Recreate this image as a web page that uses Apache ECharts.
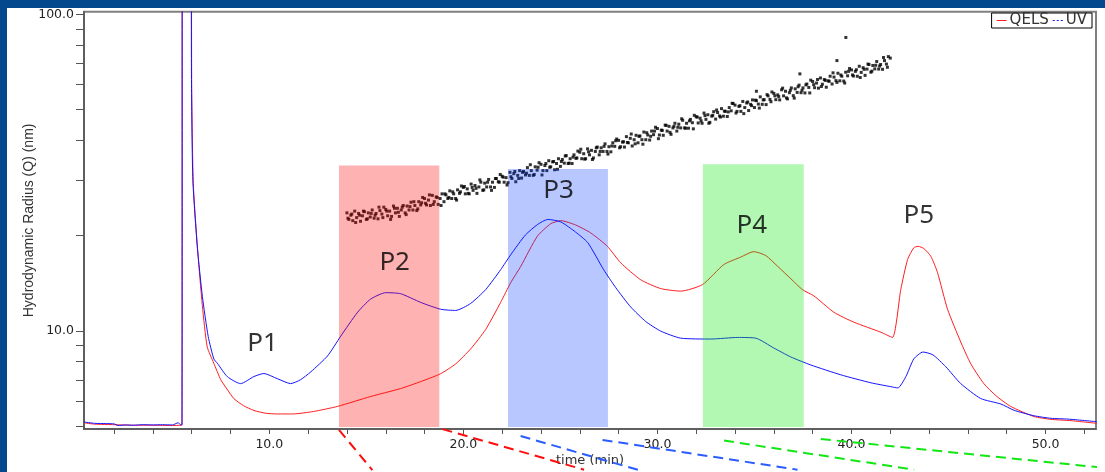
<!DOCTYPE html>
<html>
<head>
<meta charset="utf-8">
<script src="https://cdn.jsdelivr.net/npm/echarts@6/dist/echarts.min.js"></script>
<style>
html, body { margin: 0; padding: 0; width: 1105px; height: 472px; background: #03478c; overflow: hidden; }
#main { position: absolute; left: 7px; top: 8px; width: 1098px; height: 464px; background: #fff; }
</style>
</head>
<body>
<div id="main"></div>
<script>
// time (min) / value pairs
var qelsPoints = [
    [0.45, 5.12], [1.0, 5.07], [2.0, 5.05], [3.0, 5.03], [4.0, 5.03], [5.0, 5.02], [5.45, 5.03], [5.5, 5.04],
    [5.52, 400], [5.96, 400], [6.0, 60], [6.08, 29.5], [6.3, 18.2], [6.55, 12.0], [6.8, 8.9], [7.14, 7.9],
    [7.5, 7.0], [7.85, 6.5], [8.18, 6.1], [8.67, 5.8], [9.21, 5.6], [9.8, 5.49], [10.4, 5.46], [11.2, 5.46],
    [12.28, 5.56], [13.52, 5.77], [15.22, 6.2], [16.77, 6.57], [17.8, 6.91], [18.83, 7.32], [19.6, 7.86],
    [20.37, 8.76], [21.15, 10.1], [21.92, 12.3], [22.44, 14.2], [22.96, 16.0], [23.81, 19.9], [24.5, 21.8],
    [25.02, 22.3], [25.79, 21.6], [26.56, 20.4], [27.42, 18.5], [28.11, 16.4], [29.14, 14.5], [30.17, 13.6],
    [31.2, 13.35], [32.32, 14.0], [33.42, 16.2], [34.29, 17.1], [34.96, 17.8], [35.58, 17.3], [36.19, 16.0],
    [36.88, 14.6], [37.47, 13.5], [38.06, 12.9], [39.09, 11.45], [40.12, 10.65], [41.51, 9.9], [42.11, 9.53],
    [42.54, 13.5], [42.89, 16.8], [43.21, 18.3], [43.43, 18.5], [43.73, 18.2], [44.09, 17.2], [44.43, 15.3],
    [44.95, 11.7], [45.63, 9.22], [46.15, 7.86], [46.82, 6.81], [47.44, 6.24], [48.2, 5.77], [49.4, 5.36],
    [50.28, 5.25], [51.31, 5.2], [52.65, 5.1]
];
var uvPoints = [
    [0.45, 5.15], [1.0, 5.1], [1.6, 5.09], [2.0, 5.08], [2.2, 5.02], [2.6, 5.04], [3.0, 5.03], [3.5, 5.05],
    [4.0, 5.04], [4.5, 5.05], [5.0, 5.04], [5.3, 5.12], [5.45, 5.04], [5.5, 5.05],
    [5.52, 400], [5.94, 400], [5.99, 60], [6.06, 29.9], [6.29, 18.4], [6.55, 12.85], [6.85, 9.6], [7.14, 8.15],
    [7.32, 7.9], [7.84, 7.16], [8.52, 6.81], [9.21, 7.17], [9.72, 7.33], [10.41, 7.06], [11.1, 6.81],
    [11.6, 7.0], [12.14, 7.42], [13.0, 8.33], [13.68, 9.62], [14.55, 11.45], [15.22, 12.6], [16.0, 13.2],
    [16.77, 13.1], [17.8, 12.3], [18.83, 11.7], [19.6, 11.6], [20.37, 12.2], [21.15, 13.5], [21.92, 15.6],
    [22.44, 17.4], [23.2, 20.1], [23.83, 21.7], [24.35, 22.5], [25.02, 22.1], [25.79, 20.5], [26.41, 19.0],
    [27.23, 15.6], [27.85, 13.7], [28.62, 11.9], [29.4, 10.7], [30.17, 9.98], [31.2, 9.48], [32.75, 9.42],
    [34.14, 9.53], [35.07, 9.48], [35.99, 8.83], [36.87, 8.27], [37.9, 7.8], [39.45, 7.26], [41.0, 6.85],
    [42.03, 6.66], [42.39, 6.6], [42.8, 7.16], [43.21, 8.15], [43.68, 8.57], [44.19, 8.4], [44.86, 7.7],
    [45.63, 6.81], [46.66, 6.11], [47.7, 5.87], [48.37, 5.61], [49.4, 5.39], [50.28, 5.29], [51.16, 5.26],
    [52.65, 5.16]
];
// hydrodynamic radius dots (nm)
var radiusDots = [
    [14.0, 23.6], [14.1, 22.5], [14.2, 23.2], [14.3, 22.3], [14.4, 23.9], [14.5, 22.8], [14.6, 23.5], [14.7, 22.2], [14.8, 23.1], [14.9, 23.8],
    [15.0, 22.5], [15.1, 23.6], [15.2, 22.9], [15.3, 24.1], [15.4, 22.7], [15.5, 23.5], [15.6, 22.6], [15.7, 24.0], [15.8, 23.4], [15.9, 24.6],
    [16.0, 24.2], [16.1, 23.1], [16.2, 23.9], [16.3, 23.0], [16.4, 24.8], [16.5, 23.6], [16.6, 24.4], [16.7, 23.0], [16.8, 24.1], [16.9, 24.9],
    [17.0, 23.6], [17.1, 24.8], [17.2, 24.1], [17.3, 25.5], [17.4, 24.1], [17.5, 24.9], [17.6, 24.0], [17.7, 25.6], [17.8, 25.0], [17.9, 26.4],
    [18.0, 26.2], [18.1, 25.0], [18.2, 25.9], [18.3, 24.9], [18.4, 26.8], [18.5, 25.6], [18.6, 26.5], [18.7, 25.1], [18.8, 26.2], [18.9, 27.1],
    [19.0, 25.6], [19.1, 26.9], [19.2, 26.2], [19.3, 27.7], [19.4, 26.2], [19.5, 27.1], [19.6, 26.2], [19.7, 27.9], [19.8, 27.2], [19.9, 28.7],
    [20.0, 28.4], [20.1, 27.1], [20.2, 28.1], [20.3, 27.1], [20.4, 29.1], [20.5, 27.8], [20.6, 28.8], [20.7, 27.2], [20.8, 28.5], [20.9, 29.5],
    [21.0, 27.8], [21.1, 29.3], [21.2, 28.5], [21.3, 30.1], [21.4, 28.5], [21.5, 29.5], [21.6, 28.4], [21.7, 30.3], [21.8, 29.6], [21.9, 31.2],
    [22.0, 30.8], [22.1, 29.5], [22.2, 30.5], [22.3, 29.4], [22.4, 31.7], [22.5, 30.3], [22.6, 31.4], [22.7, 29.6], [22.8, 31.0], [22.9, 32.1],
    [23.0, 30.4], [23.1, 31.9], [23.2, 31.1], [23.3, 32.8], [23.4, 31.0], [23.5, 32.1], [23.6, 31.0], [23.7, 33.0], [23.8, 32.2], [23.9, 34.0],
    [24.0, 33.6], [24.1, 32.1], [24.2, 33.3], [24.3, 32.1], [24.4, 34.5], [24.5, 33.0], [24.6, 34.2], [24.7, 32.3], [24.8, 33.8], [24.9, 35.0],
    [25.0, 33.1], [25.1, 34.8], [25.2, 33.9], [25.3, 35.8], [25.4, 33.8], [25.5, 35.0], [25.6, 33.8], [25.7, 36.0], [25.8, 35.1], [25.9, 37.0],
    [26.0, 36.7], [26.1, 35.0], [26.2, 36.3], [26.3, 35.0], [26.4, 37.6], [26.5, 36.0], [26.6, 37.2], [26.7, 35.2], [26.8, 36.9], [26.9, 38.1],
    [27.0, 36.0], [27.1, 37.9], [27.2, 36.9], [27.3, 39.0], [27.4, 36.9], [27.5, 38.2], [27.6, 36.8], [27.7, 39.3], [27.8, 38.3], [27.9, 40.4],
    [28.0, 40.0], [28.1, 38.2], [28.2, 39.5], [28.3, 38.1], [28.4, 41.1], [28.5, 39.3], [28.6, 40.6], [28.7, 38.4], [28.8, 40.2], [28.9, 41.5],
    [29.0, 39.3], [29.1, 41.3], [29.2, 40.2], [29.3, 42.5], [29.4, 40.2], [29.5, 41.6], [29.6, 40.1], [29.7, 42.8], [29.8, 41.7], [29.9, 44.0],
    [30.0, 43.6], [30.1, 41.6], [30.2, 43.1], [30.3, 41.5], [30.4, 44.7], [30.5, 42.8], [30.6, 44.3], [30.7, 41.8], [30.8, 43.8], [30.9, 45.3],
    [31.0, 42.8], [31.1, 45.0], [31.2, 43.8], [31.3, 46.3], [31.4, 43.8], [31.5, 45.3], [31.6, 43.7], [31.7, 46.6], [31.8, 45.5], [31.9, 48.0],
    [32.0, 47.5], [32.1, 45.4], [32.2, 47.0], [32.3, 45.3], [32.4, 48.8], [32.5, 46.6], [32.6, 48.2], [32.7, 45.6], [32.8, 47.7], [32.9, 49.3],
    [33.0, 46.7], [33.1, 49.0], [33.2, 47.8], [33.3, 50.4], [33.4, 47.7], [33.5, 49.4], [33.6, 47.6], [33.7, 50.8], [33.8, 49.6], [33.9, 52.3],
    [34.0, 51.7], [34.1, 49.4], [34.2, 51.2], [34.3, 49.4], [34.4, 53.1], [34.5, 50.8], [34.6, 52.5], [34.7, 49.7], [34.8, 52.0], [34.9, 53.7],
    [35.0, 50.8], [35.1, 53.4], [35.2, 52.1], [35.3, 54.9], [35.4, 52.0], [35.5, 53.8], [35.6, 51.9], [35.7, 55.3], [35.8, 53.9], [35.9, 56.9],
    [36.0, 56.3], [36.1, 53.8], [36.2, 55.7], [36.3, 53.7], [36.4, 57.8], [36.5, 55.3], [36.6, 57.2], [36.7, 54.1], [36.8, 56.6], [36.9, 58.6],
    [37.0, 55.4], [37.1, 58.2], [37.2, 56.7], [37.3, 59.8], [37.4, 56.6], [37.5, 58.6], [37.6, 56.5], [37.7, 60.3], [37.8, 58.8], [37.9, 62.0],
    [38.0, 61.4], [38.1, 58.7], [38.2, 60.7], [38.3, 58.5], [38.4, 63.0], [38.5, 60.2], [38.6, 62.3], [38.7, 58.9], [38.8, 61.7], [38.9, 63.8],
    [39.0, 60.3], [39.1, 63.4], [39.2, 61.8], [39.3, 65.2], [39.4, 61.7], [39.5, 63.8], [39.6, 61.6], [39.7, 65.7], [39.8, 64.0], [39.9, 67.5],
    [40.0, 66.8], [40.1, 63.9], [40.2, 66.1], [40.3, 63.8], [40.4, 68.6], [40.5, 65.6], [40.6, 67.9], [40.7, 64.2], [40.8, 67.2], [40.9, 69.5],
    [41.0, 65.7], [41.1, 69.0], [41.2, 67.3], [41.3, 71.0], [41.4, 67.2], [41.5, 69.5], [41.6, 67.1], [41.7, 71.5], [41.8, 69.7], [41.9, 73.6],
    [42.0, 72.8],
    [35.1, 57.2], [37.34, 64.9], [39.25, 71.5], [39.71, 84.6]
];
// second, in-between layer of the same dot cloud
var radiusDotsFill = [
    [14.05, 22.7], [14.25, 23.4], [14.45, 22.0], [14.65, 23.2], [14.85, 23.9], [15.05, 22.6], [15.25, 23.5], [15.45, 23.2], [15.65, 24.6], [15.85, 22.8],
    [16.05, 23.9], [16.25, 22.5], [16.45, 24.4], [16.65, 23.7], [16.85, 24.6], [17.05, 23.3], [17.25, 24.7], [17.45, 25.6], [17.65, 24.3], [17.85, 25.4],
    [18.05, 25.3], [18.25, 26.9], [18.45, 25.1], [18.65, 26.4], [18.85, 24.9], [19.05, 27.1], [19.25, 26.4], [19.45, 27.5], [19.65, 25.9], [19.85, 27.5],
    [20.05, 28.6], [20.25, 27.2], [20.45, 28.4], [20.65, 28.2], [20.85, 30.0], [21.05, 27.9], [21.25, 29.5], [21.45, 27.8], [21.65, 30.3], [21.85, 29.5],
    [22.05, 30.6], [22.25, 28.9], [22.45, 30.7], [22.65, 31.9], [22.85, 30.3], [23.05, 31.7], [23.25, 31.5], [23.45, 33.5], [23.65, 31.2], [23.85, 32.9],
    [24.05, 31.1], [24.25, 33.8], [24.45, 32.9], [24.65, 34.3], [24.85, 32.4], [25.05, 34.3], [25.25, 35.7], [25.45, 33.9], [25.65, 35.4], [25.85, 35.2],
    [26.05, 37.5], [26.25, 34.9], [26.45, 36.8], [26.65, 34.8], [26.85, 37.9], [27.05, 36.9], [27.25, 38.3], [27.45, 36.2], [27.65, 38.4], [27.85, 39.9],
    [28.05, 37.9], [28.25, 39.6], [28.45, 39.4], [28.65, 41.9], [28.85, 39.0], [29.05, 41.2], [29.25, 38.9], [29.45, 42.3], [29.65, 41.2], [29.85, 42.8],
    [30.05, 40.5], [30.25, 43.0], [30.45, 44.6], [30.65, 42.4], [30.85, 44.3], [31.05, 44.0], [31.25, 46.8], [31.45, 43.7], [31.65, 46.1], [31.85, 43.5],
    [32.05, 47.4], [32.25, 46.1], [32.45, 47.9], [32.65, 45.3], [32.85, 48.0], [33.05, 49.9], [33.25, 47.4], [33.45, 49.5], [33.65, 49.2], [33.85, 52.4],
    [34.05, 48.8], [34.25, 51.5], [34.45, 48.6], [34.65, 52.9], [34.85, 51.5], [35.05, 53.6], [35.25, 50.6], [35.45, 53.7], [35.65, 55.8], [35.85, 53.0],
    [36.05, 55.3], [36.25, 55.0], [36.45, 58.5], [36.65, 54.5], [36.85, 57.6], [37.05, 54.4], [37.25, 59.1], [37.45, 57.6], [37.65, 59.9], [37.85, 56.5],
    [38.05, 60.0], [38.25, 62.3], [38.45, 59.2], [38.65, 61.9], [38.85, 61.5], [39.05, 65.4], [39.25, 61.0], [39.45, 64.4], [39.65, 60.7], [39.85, 66.1],
    [40.05, 64.4], [40.25, 66.9], [40.45, 63.2], [40.65, 67.1], [40.85, 69.7], [41.05, 66.2], [41.25, 69.1], [41.45, 68.7], [41.65, 73.1], [41.85, 68.1]
];

var peakNames = ['P1', 'P2', 'P3', 'P4', 'P5'];
var peakLabelAt = [[9.65, 9.08], [16.46, 16.42], [24.91, 27.8], [34.86, 21.45], [43.47, 23.2]];

// highlighted fractions: [start, end, top], all start from bandFloor
var bandRanges = [[13.59, 18.76, 33.3], [22.30, 27.45, 32.5], [32.34, 37.54, 33.6]];
var bandFloor = 4.97;

// zoom guide lines leaving the plot downward
var guideRed = [[[13.59, 4.86], [15.31, 3.63]], [[18.92, 4.89], [26.22, 3.64]]];
var guideBlue = [[[22.95, 4.65], [29.03, 3.63]], [[27.17, 4.52], [37.22, 3.64]]];
var guideGreen = [[[33.43, 4.50], [43.23, 3.64]], [[38.42, 4.55], [53.02, 3.69]]];

var timeTicks = [2, 4, 6, 8, 10, 12, 14, 16, 18, 20, 22, 24, 26, 28, 30, 32, 34, 36, 38, 40, 42, 44, 46, 48, 50, 52];
var timeLabels = [10, 20, 30, 40, 50];
var radiusTicks = [5, 6, 7, 8, 9, 10, 20, 30, 40, 50, 60, 70, 80, 90, 100];
var radiusLabels = [10, 100];

var bandColors = ['rgba(255,0,0,0.30)', 'rgba(0,54,255,0.28)', 'rgba(0,230,0,0.30)'];

var chart = echarts.init(document.getElementById('main'));

var series = [
    {
        name: 'QELS', type: 'line', data: qelsPoints, symbol: 'none', smooth: 0.2,
        lineStyle: { color: '#ff1e1e', width: 1 }, itemStyle: { color: '#ff1e1e' }, z: 2
    },
    {
        name: 'UV', type: 'line', data: uvPoints, symbol: 'none', smooth: 0.2,
        lineStyle: { color: '#1414ff', width: 1 }, itemStyle: { color: '#1414ff' }, z: 2
    },
    {
        name: 'radius', type: 'scatter', data: radiusDots.concat(radiusDotsFill), symbol: 'rect', symbolSize: 3,
        itemStyle: { color: '#000' }, silent: true, z: 3
    },
    {
        name: 'peaks', type: 'scatter', symbolSize: 1, silent: true, z: 12,
        itemStyle: { color: 'rgba(0,0,0,0)' },
        data: peakNames.map(function (n, i) { return { name: n, value: peakLabelAt[i] }; }),
        label: {
            show: true, position: 'inside', formatter: '{b}',
            fontFamily: 'Noto Sans', fontSize: 26, color: '#000'
        },
        markArea: {
            silent: true, z: 10,
            data: bandRanges.map(function (b, i) {
                return [
                    { xAxis: b[0], yAxis: bandFloor, itemStyle: { color: bandColors[i] } },
                    { xAxis: b[1], yAxis: b[2] }
                ];
            })
        }
    }
];

function addGuides(list, color) {
    list.forEach(function (seg) {
        series.push({
            type: 'line', data: seg, symbol: 'none', clip: false, silent: true, z: 6,
            lineStyle: { color: color, width: 2, type: [10, 6] }
        });
    });
}
addGuides(guideRed, '#ff0d0d');
addGuides(guideBlue, '#2b5cff');
addGuides(guideGreen, '#14e614');

chart.setOption({
    animation: false,
    grid: {
        left: 77, right: 9, top: 2, bottom: 41,
        show: true, borderColor: '#808080', borderWidth: 2
    },
    legend: {
        data: [
            { name: 'QELS', icon: 'path://M0,0H10V1H0Z' },
            { name: 'UV', icon: 'path://M0,0H2V1H0Z M4,0H6V1H4Z M8,0H10V1H8Z' }
        ],
        right: 13, top: 5, padding: [0, 5],
        itemWidth: 10, itemHeight: 1.5, itemGap: 4,
        borderColor: '#000', borderWidth: 1, backgroundColor: '#fff',
        textStyle: { fontFamily: 'DejaVu Sans', fontSize: 15, lineHeight: 15, color: '#333', padding: [0, 0, 0, -2] }
    },
    xAxis: {
        type: 'value', min: 0.45, max: 52.6,
        name: 'time (min)', nameLocation: 'middle', nameGap: 25, nameMoveOverlap: false,
        nameTextStyle: { fontFamily: 'DejaVu Sans', fontSize: 13, color: '#333' },
        axisLine: { show: true, lineStyle: { color: '#555', width: 1.5 } },
        axisTick: { customValues: timeTicks, length: 5, lineStyle: { color: '#555' } },
        axisLabel: {
            customValues: timeLabels, margin: 9,
            formatter: function (v) { return v.toFixed(1); },
            fontFamily: 'DejaVu Sans', fontSize: 12.5, color: '#222'
        },
        splitLine: { show: false }
    },
    yAxis: {
        type: 'log', logBase: 10, min: 4.894, max: 102,
        name: 'Hydrodynamic Radius (Q) (nm)', nameLocation: 'middle', nameGap: 48, nameMoveOverlap: false,
        nameTextStyle: { fontFamily: 'Liberation Sans', fontSize: 14, color: '#333' },
        axisLine: { show: true, lineStyle: { color: '#555', width: 1.5 } },
        axisTick: { customValues: radiusTicks, length: 8, lineStyle: { color: '#555' } },
        axisLabel: {
            customValues: radiusLabels, margin: 10,
            formatter: function (v) { return Number(v).toFixed(1); },
            fontFamily: 'DejaVu Sans', fontSize: 12.5, color: '#222'
        },
        splitLine: { show: false }
    },
    series: series
});
</script>
</body>
</html>
